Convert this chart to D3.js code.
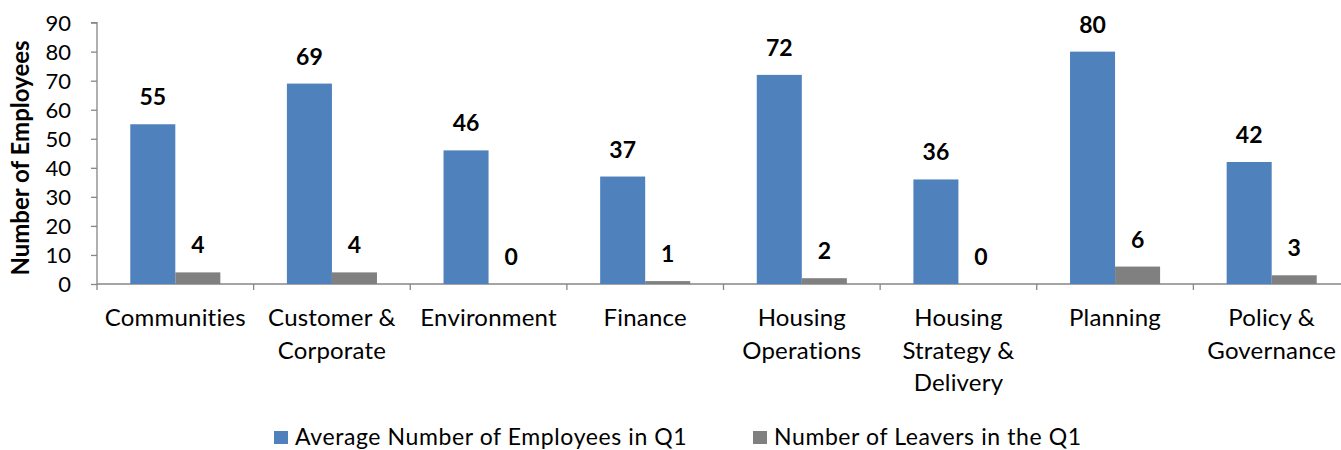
<!DOCTYPE html>
<html>
<head>
<meta charset="utf-8">
<script src="https://cdn.jsdelivr.net/npm/d3@7"></script>
<style>
  html, body { margin: 0; padding: 0; background: #fff; }
  svg { display: block; }
  text { font-family: Lato, "Open Sans", sans-serif; fill: #000; }
</style>
</head>
<body>
<svg id="chart" width="1341" height="450"></svg>
<script>
const categories = [
  ["Communities"],
  ["Customer &", "Corporate"],
  ["Environment"],
  ["Finance"],
  ["Housing", "Operations"],
  ["Housing", "Strategy &", "Delivery"],
  ["Planning"],
  ["Policy &", "Governance"]
];
const categoryKeys = ["Communities", "Customer & Corporate", "Environment", "Finance",
  "Housing Operations", "Housing Strategy & Delivery", "Planning", "Policy & Governance"];
const seriesNames = ["Average Number of Employees in Q1", "Number of Leavers in the Q1"];
const avgEmployees = [55, 69, 46, 37, 72, 36, 80, 42];
const leavers = [4, 4, 0, 1, 2, 0, 6, 3];
const yTicks = [0, 10, 20, 30, 40, 50, 60, 70, 80, 90];
const colors = ["#4F81BD", "#808080"];

const svg = d3.select("#chart");
const left = 97, right = 1350, y0 = 284, yTop = 22.6;

const x = d3.scaleBand().domain(categoryKeys).range([left, right]).paddingInner(0).paddingOuter(0);
const bw = x.bandwidth();
const groupW = bw * 0.575;
const x1 = d3.scaleBand().domain(seriesNames).range([(bw - groupW) / 2, (bw + groupW) / 2]).padding(0);
const y = d3.scaleLinear().domain([0, 90]).range([y0, yTop]);

const series = [avgEmployees, leavers];

// Y axis
const yAxis = d3.axisLeft(y).tickValues(yTicks).tickSize(6).tickPadding(20).tickFormat(d3.format("d"));
const gy = svg.append("g").attr("transform", `translate(${left},0)`).call(yAxis);
gy.selectAll("path.domain").attr("stroke", "#868686").attr("stroke-width", 1.3).attr("d", `M-6,${yTop}H0V${y0}`);
gy.selectAll(".tick line").attr("stroke", "#868686").attr("stroke-width", 1.3);
gy.selectAll(".tick text").style("font-size", "22px").style("font-family", "Lato, sans-serif").attr("fill", "#000").attr("dy", "0.35em");

// X axis line and ticks at category boundaries
const boundaries = categoryKeys.map(k => x(k)).concat([right]);
svg.append("line").attr("x1", left).attr("x2", right).attr("y1", y0).attr("y2", y0)
  .attr("stroke", "#868686").attr("stroke-width", 1.3);
svg.selectAll("line.xtick").data(boundaries).enter().append("line")
  .attr("class", "xtick")
  .attr("x1", d => d).attr("x2", d => d).attr("y1", y0).attr("y2", y0 + 6)
  .attr("stroke", "#868686").attr("stroke-width", 1.3);

// Bars
series.forEach((vals, si) => {
  svg.selectAll(`rect.s${si}`).data(vals).enter().append("rect")
    .attr("class", `s${si}`)
    .attr("x", (d, i) => x(categoryKeys[i]) + x1(seriesNames[si]))
    .attr("width", x1.bandwidth())
    .attr("y", d => y(d))
    .attr("height", d => y0 - y(d))
    .attr("fill", colors[si]);
  svg.selectAll(`text.l${si}`).data(vals).enter().append("text")
    .attr("class", `l${si}`)
    .attr("x", (d, i) => x(categoryKeys[i]) + x1(seriesNames[si]) + x1.bandwidth() / 2)
    .attr("y", d => y(d) - 19)
    .attr("text-anchor", "middle")
    .style("font-size", "23px").style("font-weight", "bold")
    .text(d => d);
});

// Category labels
categories.forEach((lines, i) => {
  const t = svg.append("text")
    .attr("x", x(categoryKeys[i]) + bw / 2)
    .attr("y", 326)
    .attr("text-anchor", "middle")
    .style("font-size", "24px").style("letter-spacing", "0.2px");
  lines.forEach((ln, j) => {
    t.append("tspan").attr("x", x(categoryKeys[i]) + bw / 2).attr("dy", j === 0 ? 0 : 32.5).text(ln);
  });
});

// Y axis title
svg.append("text")
  .attr("transform", `translate(28.5,158) rotate(-90)`)
  .attr("text-anchor", "middle")
  .style("font-size", "24px").style("font-weight", "bold")
  .text("Number of Employees");

// Legend
const legendX = [274, 753];
seriesNames.forEach((name, i) => {
  svg.append("rect").attr("x", legendX[i]).attr("y", 431).attr("width", 14).attr("height", 13).attr("fill", colors[i]);
  svg.append("text").attr("x", legendX[i] + 21).attr("y", 445)
    .style("font-size", "23px").style("letter-spacing", "0.6px").text(name);
});
</script>
</body>
</html>
